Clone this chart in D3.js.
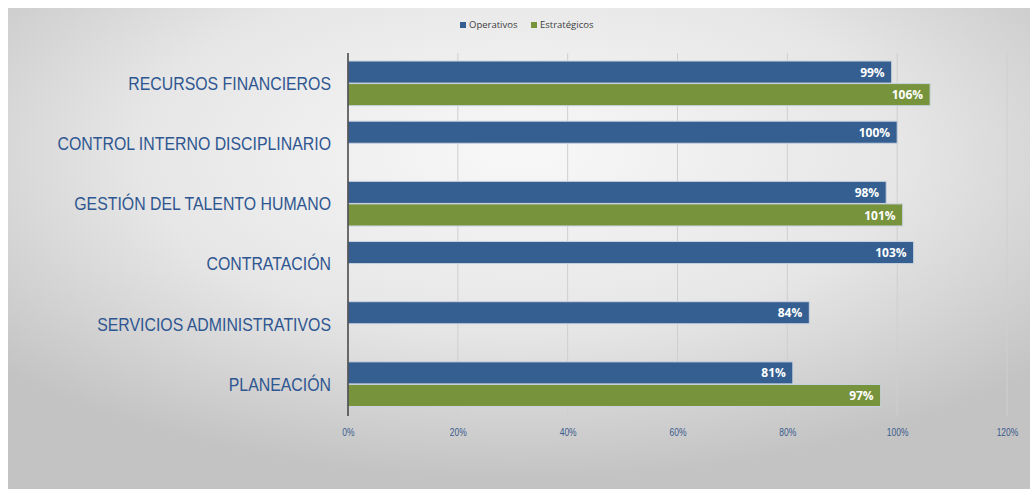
<!DOCTYPE html>
<html>
<head>
<meta charset="utf-8">
<script src="https://cdn.jsdelivr.net/npm/d3@7"></script>
<style>
    body { margin: 0; background: #ffffff; }
    svg { display: block; }
</style>
</head>
<body>
<div id="chart"></div>
<script>
// chart data
var categories = ["RECURSOS FINANCIEROS", "CONTROL INTERNO DISCIPLINARIO", "GESTIÓN DEL TALENTO HUMANO",
    "CONTRATACIÓN", "SERVICIOS ADMINISTRATIVOS", "PLANEACIÓN"];
var seriesNames = ["Operativos", "Estratégicos"];
var operativos = [0.99, 1.00, 0.98, 1.03, 0.84, 0.81];
var estrategicos = [1.06, null, 1.01, null, null, 0.97];
var tickValues = [0, 0.2, 0.4, 0.6, 0.8, 1.0, 1.2];
var colors = ["#355f91", "#77933c"];

var width = 1030, height = 489;
var plotLeft = 348, plotRight = 1007, plotTop = 53, plotBottom = 414;
var narrowFont = "'Liberation Sans', Arial, sans-serif";

var svg = d3.select("#chart").append("svg")
    .attr("width", width)
    .attr("height", height);

// background panel
var defs = svg.append("defs");
var grad = defs.append("radialGradient")
    .attr("id", "bg")
    .attr("cx", "50%").attr("cy", "30%")
    .attr("r", "68%");
grad.append("stop").attr("offset", "0%").attr("stop-color", "#f8f8f8");
grad.append("stop").attr("offset", "55%").attr("stop-color", "#e6e6e6");
grad.append("stop").attr("offset", "100%").attr("stop-color", "#c3c3c3");

svg.append("rect")
    .attr("x", 8).attr("y", 8)
    .attr("width", width - 8).attr("height", height - 8)
    .attr("fill", "url(#bg)");

// scales
var x = d3.scaleLinear().domain([0, 1.2]).range([plotLeft, plotRight]);
var y = d3.scaleBand().domain(categories).range([plotTop, plotBottom]).paddingInner(0.25).paddingOuter(0.125);
var ySub = d3.scaleBand().domain(seriesNames).range([0, y.bandwidth()]).padding(0);

// gridlines
svg.append("g")
    .selectAll("line")
    .data(tickValues.slice(1))
    .enter()
    .append("line")
    .attr("x1", d => x(d)).attr("x2", d => x(d))
    .attr("y1", plotTop).attr("y2", plotBottom + 2)
    .attr("stroke", "#cfcfcf")
    .attr("stroke-width", 1);

// tick labels along the bottom (narrow look = squeezed Liberation Sans)
var xAxis = d3.axisBottom(x)
    .tickValues(tickValues)
    .tickFormat(d3.format(".0%"))
    .tickSize(0);
var gx = svg.append("g")
    .attr("transform", "translate(0," + (plotBottom + 12) + ")")
    .call(xAxis);
gx.select(".domain").remove();
gx.selectAll(".tick text")
    .attr("transform", "scale(0.85,1)")
    .attr("fill", "#3a5a8c")
    .style("font-family", narrowFont)
    .style("font-size", "10px");

// bars
var rows = categories.map(function (c, i) {
    return [
        {cat: c, key: seriesNames[0], value: operativos[i], color: colors[0]},
        {cat: c, key: seriesNames[1], value: estrategicos[i], color: colors[1]}
    ].filter(d => d.value !== null);
});
var barData = [].concat.apply([], rows);

svg.append("g")
    .selectAll("rect")
    .data(barData)
    .enter()
    .append("rect")
    .attr("x", x(0))
    .attr("y", d => y(d.cat) + ySub(d.key) + 0.5)
    .attr("width", d => x(d.value) - x(0))
    .attr("height", ySub.bandwidth() - 0.5)
    .attr("fill", d => d.color)
    .attr("stroke", "#c9d3df")
    .attr("stroke-width", 1);

// data labels inside end
svg.append("g")
    .selectAll("text")
    .data(barData)
    .enter()
    .append("text")
    .attr("x", d => x(d.value) - 7)
    .attr("y", d => y(d.cat) + ySub(d.key) + ySub.bandwidth() / 2 + 0.5)
    .attr("dy", "0.36em")
    .attr("text-anchor", "end")
    .attr("fill", "#ffffff")
    .style("font-family", "'Open Sans', 'Noto Sans', sans-serif")
    .style("font-weight", "bold")
    .style("font-size", "12px")
    .text(d => Math.round(d.value * 100) + "%");

// vertical axis line
svg.append("line")
    .attr("x1", plotLeft).attr("x2", plotLeft)
    .attr("y1", plotTop).attr("y2", plotBottom + 2)
    .attr("stroke", "#404040")
    .attr("stroke-width", 1.5);

// category labels
svg.append("g")
    .selectAll("text")
    .data(categories)
    .enter()
    .append("text")
    .attr("transform", d => "translate(" + (plotLeft - 17) + "," +
        (y(d) - (y.step() - y.bandwidth()) / 2 + y.step() / 2) + ") scale(0.835,1)")
    .attr("dy", "0.36em")
    .attr("text-anchor", "end")
    .attr("fill", "#2e5690")
    .style("font-family", narrowFont)
    .style("font-size", "19px")
    .text(d => d);

// legend
var legend = svg.append("g").attr("transform", "translate(460,25)");
var legendX = [0, 71];
seriesNames.forEach(function (name, i) {
    var g = legend.append("g").attr("transform", "translate(" + legendX[i] + ",0)");
    g.append("rect")
        .attr("x", 0).attr("y", -3)
        .attr("width", 6).attr("height", 6)
        .attr("fill", colors[i]);
    g.append("text")
        .attr("x", 9).attr("y", 0)
        .attr("dy", "0.35em")
        .attr("fill", "#404040")
        .style("font-family", "'Open Sans', 'Noto Sans', sans-serif")
        .style("font-size", "9.5px")
        .text(name);
});
</script>
</body>
</html>
